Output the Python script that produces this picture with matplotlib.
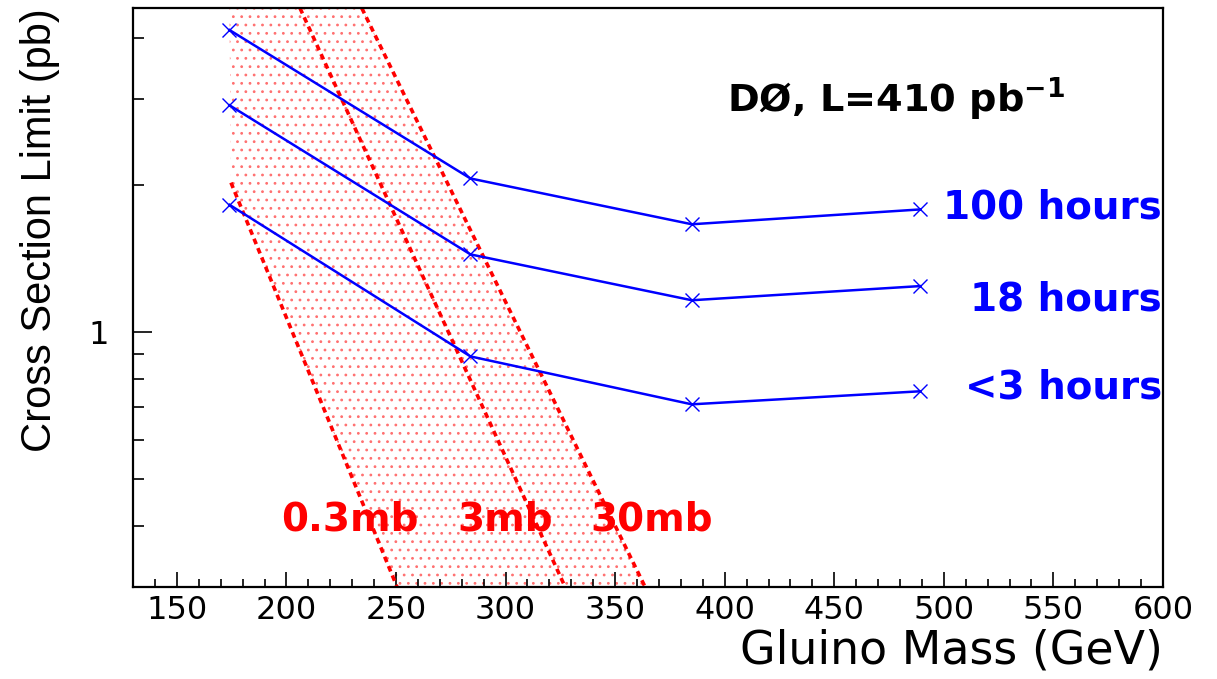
import matplotlib
matplotlib.use("Agg")
import matplotlib.pyplot as plt
from matplotlib.ticker import FixedLocator, FixedFormatter, NullFormatter

# Gluino mass points (GeV) and cross section limits (pb)
mass = [174, 284, 385, 489]
limit_100h = [4.15, 2.06, 1.66, 1.78]
limit_18h = [2.91, 1.44, 1.16, 1.24]
limit_3h = [1.82, 0.89, 0.71, 0.755]
curve_labels = ["100 hours", "18 hours", "<3 hours"]
curve_label_y = [1.80, 1.163, 0.769]

# Theory lines: (mass, xsec) end points
line_03mb = ([174.7, 250.5], [2.02, 0.30])
line_3mb = ([206.2, 327.2], [4.6, 0.30])
line_30mb = ([234.4, 363.7], [4.6, 0.30])
theory_labels = ["0.3mb", "3mb", "30mb"]
theory_label_x = [228.8, 299.8, 366.6]

XMIN, XMAX = 130, 600
YMIN, YMAX = 0.30, 4.6

BLUE = "#0000ff"
RED = "#ff0000"

plt.rcParams["font.family"] = ["DejaVu Sans"]
plt.rcParams["hatch.linewidth"] = 0.8


def main():
    fig = plt.figure(figsize=(12.17, 6.79), dpi=100)
    ax = fig.add_axes([0.1093, 0.1355, 0.8463, 0.8525])
    ax.set_yscale("log")
    ax.set_xlim(XMIN, XMAX)
    ax.set_ylim(YMIN, YMAX)

    # dotted band between the 0.3mb and 30mb lines, right of first mass point
    band_x = [mass[0], line_03mb[0][0], line_03mb[0][1], line_30mb[0][1], line_30mb[0][0], mass[0]]
    band_y = [YMAX, line_03mb[1][0], line_03mb[1][1], line_30mb[1][1], line_30mb[1][0], YMAX]
    ax.fill(band_x, band_y, facecolor="none", edgecolor="#ff7070", lw=0, hatch="..", zorder=1)

    for lx, ly in (line_03mb, line_3mb, line_30mb):
        ax.plot(lx, ly, color=RED, lw=2.6, dashes=(1.6, 1.2), zorder=2)

    for ys in (limit_100h, limit_18h, limit_3h):
        ax.plot(mass, ys, color=BLUE, lw=1.8, marker="x", ms=10, mew=1.0, zorder=3)

    # curve labels on the right edge
    for lab, yl in zip(curve_labels, curve_label_y):
        ax.text(0.999, yl, lab, transform=ax.get_yaxis_transform(), color=BLUE,
                fontsize=28, fontweight="bold", ha="right", va="center")

    for lab, xl in zip(theory_labels, theory_label_x):
        ax.text(xl, 0.413, lab, color=RED, fontsize=28, fontweight="bold",
                ha="center", va="center")

    ax.text(594 / 1030, 0.843, r"DØ, L=410 pb$^{\mathbf{-1}}$", transform=ax.transAxes,
            fontsize=27.5, fontweight="bold", ha="left", va="center")

    # ticks: ROOT style, inward, left and bottom only
    ax.xaxis.set_major_locator(FixedLocator(range(150, 601, 50)))
    ax.xaxis.set_minor_locator(FixedLocator(range(140, 601, 10)))
    ax.yaxis.set_major_locator(FixedLocator([1]))
    ax.yaxis.set_minor_locator(FixedLocator([0.4, 0.5, 0.6, 0.7, 0.8, 0.9, 2, 3, 4]))
    ax.yaxis.set_major_formatter(FixedFormatter(["1"]))
    ax.yaxis.set_minor_formatter(NullFormatter())
    ax.tick_params(which="both", direction="in", top=False, right=False, width=1.2)
    ax.tick_params(axis="x", which="major", length=11, labelsize=23, pad=6)
    ax.tick_params(axis="x", which="minor", length=6)
    ax.tick_params(axis="y", which="major", length=14, labelsize=23, pad=17)
    ax.tick_params(axis="y", which="minor", length=8)
    for sp in ax.spines.values():
        sp.set_linewidth(1.6)

    ax.set_xlabel("Gluino Mass (GeV)", fontsize=33, loc="right")
    ax.xaxis.set_label_coords(1.0, -0.072)
    ax.set_ylabel("Cross Section Limit (pb)", fontsize=30, loc="top",
                  family=["Liberation Sans", "DejaVu Sans"])
    ax.yaxis.set_label_coords(-0.071, 1.0)

    fig.savefig("out.png", dpi=100)


if __name__ == "__main__":
    main()
